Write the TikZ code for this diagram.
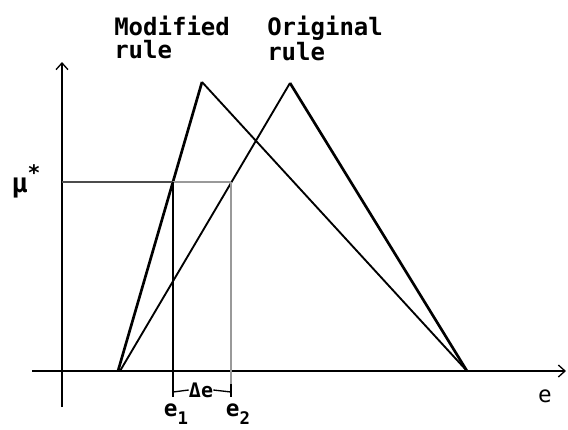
\documentclass[tikz,border=0pt]{standalone}
\usepackage{fontspec}
\setmonofont{DejaVu Sans Mono}
\usetikzlibrary{arrows.meta}
\begin{document}
\begin{tikzpicture}[x=0.75pt,y=-0.75pt,
  axis/.style={line width=1.1pt, -{Straight Barb[length=5pt,width=9pt,line width=1pt]}},
  tri/.style={line width=1.4pt, line join=miter},
  trithick/.style={line width=2pt, line join=miter},
  lbl/.style={font=\ttfamily\bfseries\fontsize{18}{17.25}\selectfont, inner sep=0pt, align=left},
  sm/.style={font=\ttfamily\fontsize{17}{17}\selectfont, inner sep=0pt},
  guide/.style={line width=1.5pt, black!70},
  guidelt/.style={line width=1.3pt, black!40}]
\useasboundingbox (0,0) rectangle (568,429);
% axes
\coordinate (ytop) at (62,62);
\coordinate (ybot) at (62,407);
\coordinate (xl) at (32,371);
\coordinate (xr) at (566,371);
\draw[axis] (ybot) -- (ytop);
\draw[axis] (xl) -- (xr);
% triangles
\coordinate (mL) at (118,371);
\coordinate (mP) at (202,82);
\coordinate (R) at (467,371);
\coordinate (oL) at (120,371);
\coordinate (oP) at (290,83);
\draw[trithick] (mL) -- (mP);
\draw[tri] (mP) -- (R);
\draw[tri] (oL) -- (oP);
\draw[trithick] (oP) -- (R);
% mu* guides
\coordinate (mu) at (62,182);
\coordinate (e1t) at (173,182);
\coordinate (e2t) at (231,182);
\coordinate (e1b) at (173,397);
\coordinate (e2b) at (231,397);
\coordinate (e2k) at (231,384);
\draw[guide] (mu) -- (e1t);
\draw[guidelt] (e1t) -- (e2t);
\draw[line width=1.3pt] (e1t) -- (e1b);
\draw[guidelt] (e2t) -- (e2b);
\draw[line width=1pt] (e2k) -- (e2b);
% delta e bracket
\node[sm, font=\ttfamily\bfseries\fontsize{15}{15}\selectfont] (de) at (201,390) {Δe};
\coordinate (bl) at (173,392);
\coordinate (br) at (231,392);
\draw[line width=1pt] (bl) -- (de.west);
\draw[line width=1pt] (de.east) -- (br);
% labels
\node[lbl, anchor=north west] (mod) at (114,16) {Modified\\rule};
\node[lbl, anchor=north west] (orig) at (267,16) {Original\\rule};
\node[sm, font=\ttfamily\bfseries\fontsize{20}{20}\selectfont] (mulbl) at (26,181) {μ\raisebox{0.45em}{\fontsize{16}{16}\selectfont\bfseries *}};
\node[sm] (elbl) at (545,396) {e};
\node[sm, anchor=north, font=\ttfamily\bfseries\fontsize{17}{17}\selectfont] (e1lbl) at (176,404) {e\raisebox{-0.35em}{\fontsize{13}{13}\selectfont 1}};
\node[sm, anchor=north, font=\ttfamily\bfseries\fontsize{17}{17}\selectfont] (e2lbl) at (238,404) {e\raisebox{-0.35em}{\fontsize{13}{13}\selectfont 2}};
\end{tikzpicture}
\end{document}
